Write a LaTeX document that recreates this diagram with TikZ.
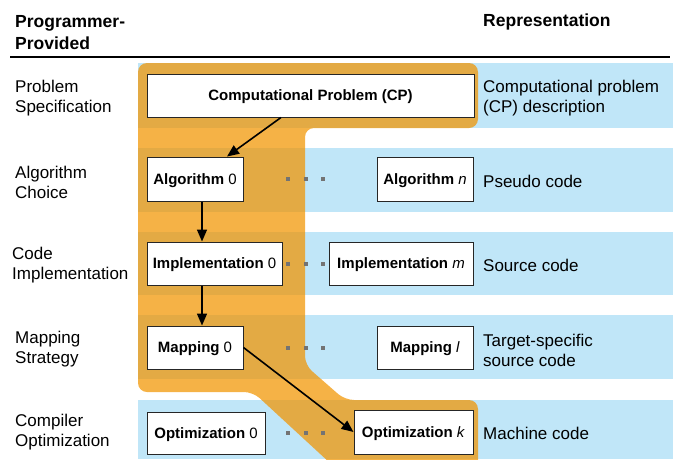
\documentclass[tikz,border=0pt]{standalone}
\usepackage{fontspec}
\setmainfont{Liberation Sans}
\usetikzlibrary{arrows.meta,calc}
\definecolor{bandblue}{RGB}{192,230,248}
\definecolor{pathorange}{RGB}{241,149,2}
\definecolor{dotgray}{RGB}{115,115,115}
\tikzset{
  stage/.style={draw=black!85, line width=1pt, fill=white, inner sep=0pt,
    text height=12.6pt, text depth=2pt,
    font=\fontsize{15}{18}\selectfont},
  rowlabel/.style={anchor=west, align=left, inner sep=0pt,
    font=\fontsize{17}{20}\selectfont},
  header/.style={anchor=west, align=left, inner sep=0pt,
    font=\fontsize{17.5}{22}\selectfont\bfseries},
  flow/.style={-{Triangle[length=12pt,width=10pt]}, line width=1.6pt},
  gapdot/.style={fill=dotgray, minimum size=4pt, inner sep=0pt},
}
\begin{document}
\begin{tikzpicture}[x=1pt,y=-1pt]
\useasboundingbox (0,0) rectangle (673,459);

% headings and rule
\node[header] (hprog) at (15,33) {Programmer-\\Provided};
\node[header] (hrep) at (483,22) {Representation};
\draw[line width=1.1pt] (10,57) -- (670,57);

% representation bands
\fill[bandblue] (138,63) rectangle (673,128);
\fill[bandblue] (138,148) rectangle (673,212);
\fill[bandblue] (138,232) rectangle (673,295);
\fill[bandblue] (138,315) rectangle (673,379);
\fill[bandblue] (138,400) rectangle (673,459);

% highlighted path of choices
\begin{scope}
  \clip (0,0) rectangle (673,459);
  \fill[pathorange, fill opacity=0.73, rounded corners=9pt]
    (138,63) -- (478,63) -- (478,128) -- (305,128) -- (305,365)
    -- (345,400) -- (478,400) -- (478,475) -- (343,475)
    -- (253,392) -- (138,392) -- cycle;
\end{scope}

% stage labels
\node[rowlabel] (l1) at (15,98) {Problem\\Specification};
\node[rowlabel] (l2) at (15,182) {Algorithm\\Choice};
\node[rowlabel] (l3) at (12,265.5) {Code\\Implementation};
\node[rowlabel] (l4) at (15,349.5) {Mapping\\Strategy};
\node[rowlabel] (l5) at (15,432.5) {Compiler\\Optimization};

% representation labels
\node[rowlabel] (r1) at (483,98) {Computational problem\\(CP) description};
\node[rowlabel] (r2) at (483,181.5) {Pseudo code};
\node[rowlabel] (r3) at (483,265.5) {Source code};
\node[rowlabel] (r4) at (483,350.5) {Target-specific\\source code};
\node[rowlabel] (r5) at (483,433.5) {Machine code};

% stage boxes
\node[stage, minimum width=327pt, minimum height=43pt] (cp) at (310.5,95.5)
  {\textbf{Computational Problem (CP)}};
\node[stage, minimum width=96pt, minimum height=44pt] (alg0) at (195,179)
  {\textbf{Algorithm} 0};
\node[stage, minimum width=96pt, minimum height=44pt] (algn) at (425,179)
  {\textbf{Algorithm} \textit{n}};
\node[stage, minimum width=135pt, minimum height=43pt] (impl0) at (214.5,263.5)
  {\textbf{Implementation} 0};
\node[stage, minimum width=144pt, minimum height=43pt] (implm) at (401,263.5)
  {\textbf{Implementation} \textit{m}};
\node[stage, minimum width=96pt, minimum height=43pt] (map0) at (195,347.5)
  {\textbf{Mapping} 0};
\node[stage, minimum width=96pt, minimum height=43pt] (mapl) at (425,347.5)
  {\textbf{Mapping} \textit{l}};
\node[stage, minimum width=118pt, minimum height=42pt] (opt0) at (206,433)
  {\textbf{Optimization} 0};
\node[stage, minimum width=119pt, minimum height=44pt] (optk) at (413.5,432)
  {\textbf{Optimization} \textit{k}};

% ellipsis dots between alternatives
\foreach \y/\r in {179/a,263.5/b,347.5/c,432.5/d}
  \foreach \x/\c in {288/1,305.5/2,323/3}
    \node[gapdot] (dot\r\c) at (\x,\y) {};

% chosen path
\coordinate (spine) at (202,0);
\draw[flow] ($(cp.south west)!0.41!(cp.south east)$)
  -- ($(alg0.north west)!0.83!(alg0.north east)$);
\draw[flow] (alg0.south -| spine) -- (impl0.north -| spine);
\draw[flow] (impl0.south -| spine) -- (map0.north -| spine);
\draw[flow] (map0.east) -- (optk.west);
\end{tikzpicture}
\end{document}
